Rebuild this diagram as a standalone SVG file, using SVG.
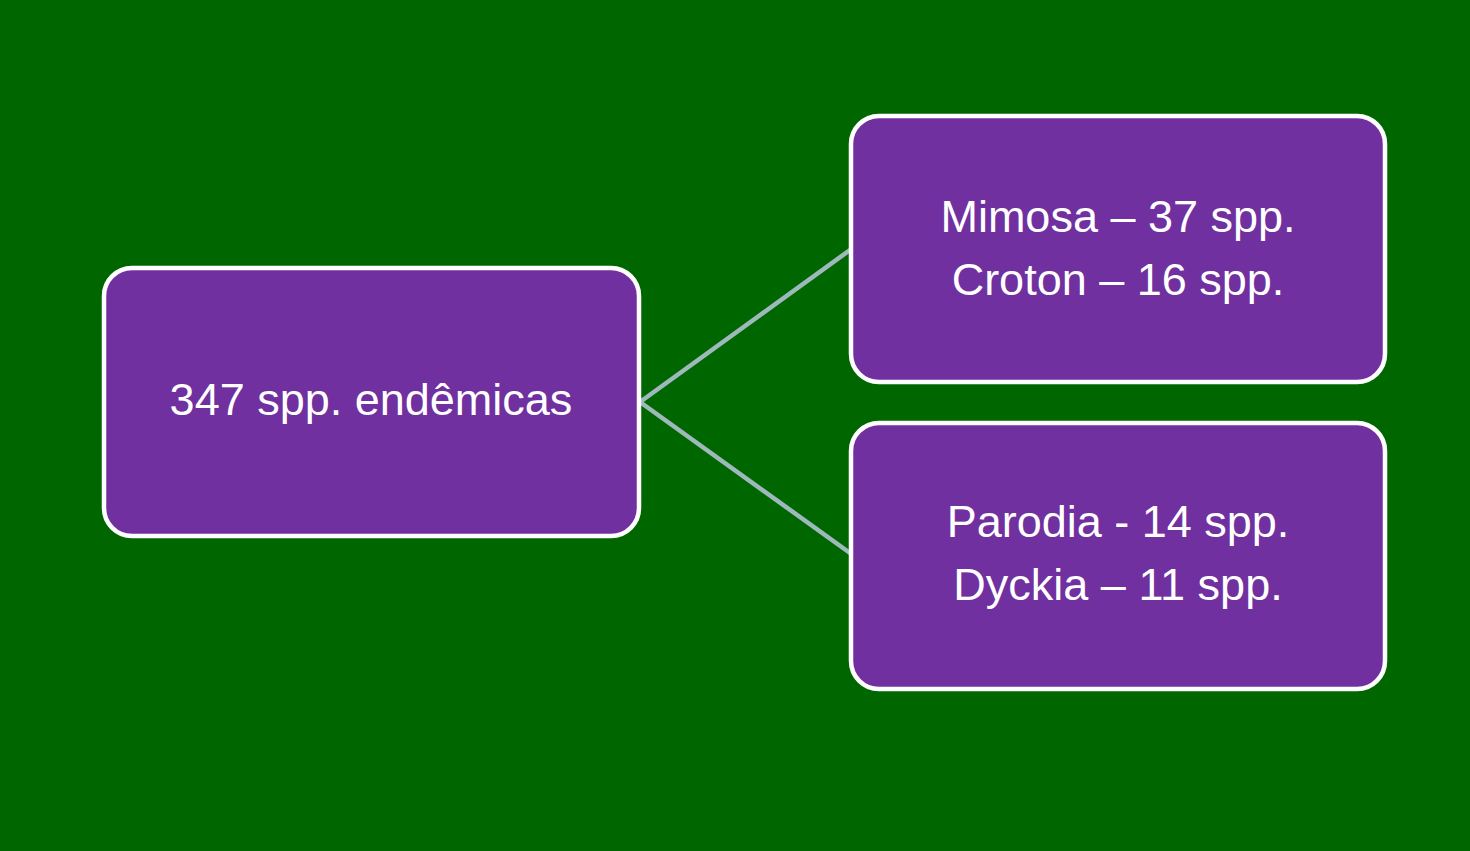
<svg xmlns="http://www.w3.org/2000/svg" width="1470" height="851" viewBox="0 0 1470 851">
  <style>
    .box { fill: #7030A0; stroke: #FFFFFF; stroke-width: 4.5; }
    .label { font-family: "Liberation Sans", Arial, sans-serif; font-size: 45px; fill: #FFFFFF; text-anchor: middle; }
    .link { stroke: #9DB9BC; stroke-width: 4.5; fill: none; stroke-linecap: round; }
  </style>
  <rect x="0" y="0" width="1470" height="851" fill="#006600"/>
  <g id="connectors">
    <line class="link" x1="640" y1="402" x2="850" y2="250"/>
    <line class="link" x1="640" y1="402" x2="850" y2="553"/>
  </g>
  <g id="node-root">
    <rect class="box" x="104" y="268" width="535" height="268" rx="28"/>
    <text class="label" x="371" y="415">347 spp. endêmicas</text>
  </g>
  <g id="node-mimosa-croton">
    <rect class="box" x="851" y="116" width="534" height="266" rx="28"/>
    <text class="label" x="1118" y="232">Mimosa – 37 spp.</text>
    <text class="label" x="1118" y="295">Croton – 16 spp.</text>
  </g>
  <g id="node-parodia-dyckia">
    <rect class="box" x="851" y="423" width="534" height="266" rx="28"/>
    <text class="label" x="1118" y="537">Parodia - 14 spp.</text>
    <text class="label" x="1118" y="600">Dyckia – 11 spp.</text>
  </g>
</svg>
